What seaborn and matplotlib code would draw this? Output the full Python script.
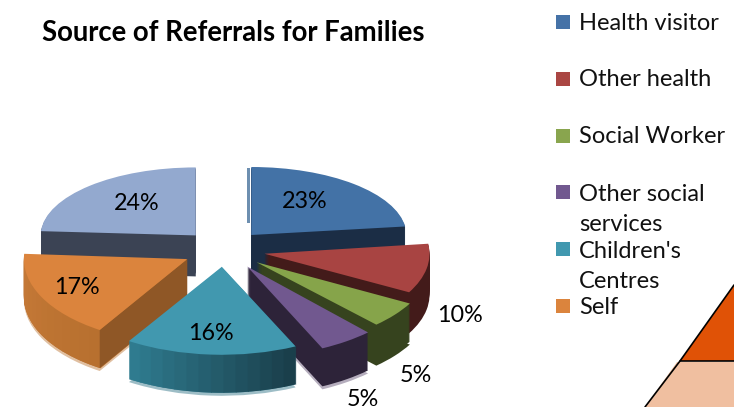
import numpy as np
import matplotlib
matplotlib.use('Agg')
import matplotlib.pyplot as plt
from matplotlib.patches import Wedge
from matplotlib.transforms import Affine2D
import seaborn as sns

# data
categories = ['Health visitor', 'Other health', 'Social Worker', 'Other social\nservices', "Children's\nCentres", 'Self', 'Other']
values = [23, 10, 5, 5, 16, 17, 24]
labels = ['23%', '10%', '5%', '5%', '16%', '17%', '24%']

sns.set_theme(style='white')
plt.rcParams['font.family'] = ['Lato', 'DejaVu Sans']

top_colors = sns.color_palette(['#4372A6', '#A84442', '#86A44A', '#71588F', '#4198AF', '#DB843D', '#93A9CF'])
side_colors = sns.color_palette(['#1B2D45', '#431B1A', '#36431E', '#2D2339', '#2F7B8F', '#C67A38', '#3B4354'])
fringe_colors = sns.color_palette(['#1B2D45', '#431B1A', '#36431E', '#B5ADBD', '#9DBDC6', '#E0BFA0', '#3B4354'])
rim_dark = {4: '#1A3F4B', 5: '#B8702F'}
legend_colors = ['#4572A7', '#AA4643', '#89A54E', '#71588F', '#4198AF', '#DB843D']
draw_order = [1, 3, 4, 5, 6, 2, 0]  # back to front

W, H = 734, 407
fig = plt.figure(figsize=(W / 100, H / 100), dpi=100)
ax = fig.add_axes([0, 0, 1, 1])

cx, cy, a, b = 224, 250, 165, 80
explode = [0.25, 0.25, 0.25, 0.25, 0.21, 0.25, 0.25]
depth = 38
# perspective: back slices look flatter, front ones deeper
sx = [0.94, 1.0, 1.06, 1.07, 1.05, 0.99, 0.94]
sy = [0.85, 1.0, 1.07, 1.13, 1.1, 1.05, 0.85]

angles = 90 - np.cumsum([0] + values) * 3.6
mids = np.deg2rad((angles[:-1] + angles[1:]) / 2)
ox = [e * np.cos(m) for e, m in zip(explode, mids)]
oy = [e * np.sin(m) for e, m in zip(explode, mids)]


def persp(i, d):
    # scale a slice around its own tip
    y0 = oy[i] - d / b
    return Affine2D().translate(-ox[i], -y0).scale(sx[i], sy[i]).translate(ox[i], y0) + ax.transData


def layer(colors, d, z):
    wedges, _ = ax.pie(values, colors=colors, explode=explode, startangle=90, counterclock=False,
                       center=(0, -d / b), wedgeprops={'linewidth': 0})
    for i, w in enumerate(wedges):
        w.set_zorder(draw_order[i] * 10 + z)
        w.set_transform(persp(i, d))


layer(fringe_colors, depth + 3, -1)
for d in range(depth, 0, -1):
    layer(side_colors, d, 0)
layer(top_colors, 0, 2)

# rim shading on teal and orange, cut face on orange
for i, dark in rim_dark.items():
    t1, t2 = angles[i + 1], angles[i]
    steps = np.linspace(t1, t2, 15)
    ramp = sns.blend_palette([side_colors[i], dark], 14)
    for d in range(depth, 0, -1):
        for k in range(14):
            ax.add_patch(Wedge((ox[i], oy[i] - d / b), 1, steps[k], steps[k + 1] + 0.3, color=ramp[k], lw=0,
                               zorder=draw_order[i] * 10 + 0.5, transform=persp(i, d)))
    if i == 5:
        ex = ox[i] + sx[i] * np.cos(np.deg2rad(t2))
        ey = oy[i] + sy[i] * np.sin(np.deg2rad(t2))
        ax.fill([ox[i], ex, ex, ox[i]], [oy[i], ey, ey - depth / b, oy[i] - depth / b], color='#8F5726', lw=0,
                zorder=draw_order[i] * 10 + 1)

ax.set_aspect('auto')
ax.set_xlim(-cx / a, (W - cx) / a)
ax.set_ylim((cy - H) / b, cy / b)

# overlay in pixel coordinates
ov = fig.add_axes([0, 0, 1, 1], facecolor='none')
ov.set_xlim(0, W)
ov.set_ylim(H, 0)
ov.axis('off')

ov.text(42, 33, 'Source of Referrals for Families', fontsize=19.8, fontweight='bold', color='black', va='center')

label_pos = [(305, 201), (460, 316), (416, 376), (363, 400), (211, 333), (77, 288), (137, 203)]
for t, (x, y) in zip(labels, label_pos):
    ov.text(x, y, t, fontsize=16.8, color='black', ha='center', va='center')

marker_y = [22, 79, 136, 192, 249, 306]
text_y = [13, 69, 126, 184, 241, 297]
for name, col, my, ty in zip(categories, legend_colors, marker_y, text_y):
    ov.scatter([563], [my], marker='s', s=100, color=col, linewidths=0)
    ov.text(579, ty, name, fontsize=17, color='#111111', va='top', linespacing=1.55)

# inner strip beside the first slice
ov.fill([247, 250, 250, 247], [168, 168, 223, 223], color='#6D8FB0', lw=0)

# corner of the next shape on the page
ov.fill([680, 734, 734], [361, 285, 361], color='#E05206', lw=0)
ov.fill([677, 734, 734, 645], [362, 362, 407, 407], color='#F0BFA0', lw=0)
ov.plot([734, 680, 734], [285, 361, 361], color='black', lw=1.2)
ov.plot([680, 645], [361, 407], color='black', lw=1.2)

fig.savefig('out.png', dpi=100)
